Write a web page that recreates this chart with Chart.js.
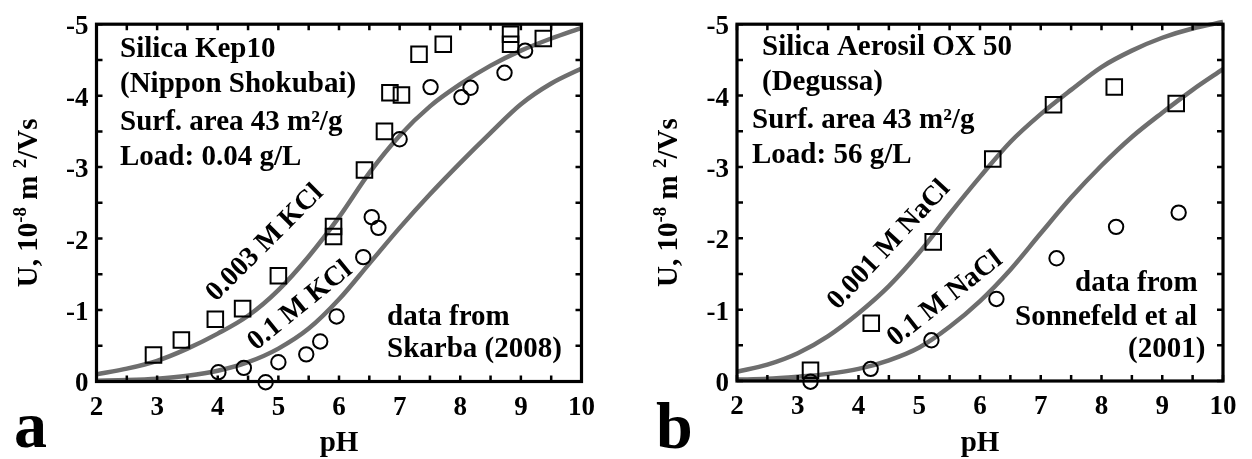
<!DOCTYPE html>
<html><head><meta charset="utf-8">
<script src="https://cdn.jsdelivr.net/npm/chart.js@4.4.1/dist/chart.umd.min.js"></script>
<style>
html,body{margin:0;padding:0;background:#fff;}
body{width:1252px;height:459px;position:relative;overflow:hidden;}
.wrap{position:absolute;top:0;width:626px;height:459px;}
canvas{display:block;}
</style></head><body>
<div class="wrap" style="left:0"><canvas id="ca" width="626" height="459" style="width:626px;height:459px"></canvas></div>
<div class="wrap" style="left:626px"><canvas id="cb" width="626" height="459" style="width:626px;height:459px"></canvas></div>
<script>
// ---------- data ----------
const xTickValues = [2, 3, 4, 5, 6, 7, 8, 9, 10];
const yTickValues = [-5, -4, -3, -2, -1, 0];

const curvePH = [2, 2.5, 3, 3.5, 4, 4.5, 5, 5.5, 6, 6.5, 7, 7.5, 8, 8.5, 9, 9.5, 10];

// panel a: Silica Kep10, KCl
const kcl003Curve = [-0.10, -0.18, -0.29, -0.46, -0.67, -0.92, -1.28, -1.75, -2.30, -2.92, -3.44, -3.85, -4.16, -4.42, -4.63, -4.80, -4.95];
const kcl1Curve   = [-0.01, -0.02, -0.04, -0.08, -0.15, -0.27, -0.46, -0.74, -1.15, -1.65, -2.15, -2.62, -3.06, -3.48, -3.88, -4.17, -4.38];
const kcl003PH = [2.94, 3.40, 3.96, 4.41, 5.00, 5.91, 5.91, 6.42, 6.75, 6.84, 7.03, 7.32, 7.72, 8.83, 8.83, 9.37];
const kcl003U  = [-0.37, -0.58, -0.87, -1.02, -1.48, -2.17, -2.03, -2.96, -3.50, -4.04, -4.01, -4.58, -4.72, -4.86, -4.72, -4.80];
const kcl1PH = [4.01, 4.43, 4.79, 5.00, 5.46, 5.69, 5.96, 6.40, 6.54, 6.65, 7.00, 7.51, 8.02, 8.17, 8.73, 9.07];
const kcl1U  = [-0.13, -0.19, 0.01, -0.27, -0.38, -0.56, -0.91, -1.74, -2.30, -2.15, -3.39, -4.12, -3.98, -4.11, -4.32, -4.63];

// panel b: Silica Aerosil OX 50, NaCl
const nacl001Curve = [-0.13, -0.23, -0.39, -0.63, -0.95, -1.33, -1.80, -2.34, -2.86, -3.35, -3.74, -4.08, -4.40, -4.63, -4.81, -4.94, -5.03];
const nacl1Curve   = [-0.02, -0.03, -0.06, -0.10, -0.17, -0.29, -0.47, -0.76, -1.12, -1.56, -2.07, -2.57, -3.02, -3.42, -3.76, -4.08, -4.37];
const nacl001PH = [3.21, 4.21, 5.23, 6.21, 7.21, 8.21, 9.23];
const nacl001U  = [-0.15, -0.81, -1.95, -3.11, -3.87, -4.12, -3.89];
const nacl1PH = [3.21, 4.20, 5.20, 6.27, 7.26, 8.24, 9.27];
const nacl1U  = [0.01, -0.17, -0.57, -1.15, -1.72, -2.16, -2.36];

// ---------- styles ----------
const FONT = '"Liberation Serif", "Times New Roman", serif';
const GRAY = '#6e6e6e';
const W = 626, H = 459;

function pts(xs, ys) { return xs.map((x, i) => ({ x: x, y: ys[i] })); }

function curveDs(ys) {
  return { data: pts(curvePH, ys), showLine: true, borderColor: GRAY, borderWidth: 4.5,
           pointRadius: 0, cubicInterpolationMode: 'monotone', fill: false, clip: false, order: 1 };
}
function markDs(xs, ys, style) {
  return { data: pts(xs, ys), showLine: false, pointStyle: style, pointRadius: style === 'rect' ? 11 : 7.2,
           borderColor: '#000', borderWidth: 2, backgroundColor: 'rgba(0,0,0,0)', clip: false, order: 0 };
}

function drawYTitle(ctx, xBase, yCenter) {
  const main = 'bold 29px ' + FONT, sup = 'bold 19px ' + FONT;
  const segs = [['U, 10', false], ['-8', true], [' m ', false], ['2', true], ['/Vs', false]];
  ctx.save();
  let total = 0;
  segs.forEach(s => { ctx.font = s[1] ? sup : main; total += ctx.measureText(s[0]).width; });
  ctx.translate(xBase, yCenter);
  ctx.rotate(-Math.PI / 2);
  ctx.fillStyle = '#000';
  ctx.textBaseline = 'alphabetic';
  ctx.textAlign = 'left';
  let x = -total / 2;
  segs.forEach(s => {
    ctx.font = s[1] ? sup : main;
    ctx.fillText(s[0], x, s[1] ? -11 : 0);
    x += ctx.measureText(s[0]).width;
  });
  ctx.restore();
}

function makeChart(id, cfg) {
  const area = cfg.area, off = cfg.offset;
  const deco = {
    id: 'deco',
    afterDraw(chart) {
      const ctx = chart.ctx, ca = chart.chartArea;
      const xs = chart.scales.x, ys = chart.scales.y;
      ctx.save();
      // inward ticks every 0.5
      ctx.strokeStyle = '#000';
      ctx.lineWidth = 2.5;
      ctx.beginPath();
      for (let v = xs.min; v <= xs.max + 1e-9; v += 0.5) {
        const p = xs.getPixelForValue(v);
        ctx.moveTo(p, ca.bottom); ctx.lineTo(p, ca.bottom - 6);
        ctx.moveTo(p, ca.top); ctx.lineTo(p, ca.top + 6);
      }
      for (let v = ys.min; v <= ys.max + 1e-9; v += 0.5) {
        const p = ys.getPixelForValue(v);
        ctx.moveTo(ca.left, p); ctx.lineTo(ca.left + 6, p);
        ctx.moveTo(ca.right, p); ctx.lineTo(ca.right - 6, p);
      }
      ctx.stroke();
      // frame
      ctx.lineWidth = 3.2;
      ctx.strokeRect(ca.left, ca.top, ca.right - ca.left, ca.bottom - ca.top);
      // texts
      ctx.fillStyle = '#000';
      cfg.texts.forEach(t => {
        ctx.save();
        ctx.font = 'bold ' + (t.size || 29) + 'px ' + FONT;
        if (t.rot) {
          ctx.translate(t.x - off, t.y);
          ctx.rotate(t.rot * Math.PI / 180);
          ctx.textAlign = 'center';
          ctx.textBaseline = 'middle';
          ctx.fillText(t.t, 0, 0);
        } else {
          ctx.textAlign = 'left';
          ctx.textBaseline = 'alphabetic';
          ctx.fillText(t.t, t.x - off, t.y);
        }
        ctx.restore();
      });
      // axis titles
      ctx.font = 'bold 29px ' + FONT;
      ctx.textAlign = 'center';
      ctx.textBaseline = 'alphabetic';
      ctx.fillText('pH', (ca.left + ca.right) / 2, 451);
      drawYTitle(ctx, cfg.yTitleX - off, (ca.top + ca.bottom) / 2);
      // panel letter
      ctx.font = 'bold 66px ' + FONT;
      ctx.textAlign = 'left';
      ctx.fillText(cfg.letter[0], cfg.letter[1] - off, cfg.letter[2]);
      ctx.restore();
    }
  };
  const tickFont = { family: FONT, size: 27, weight: 'bold' };
  return new Chart(document.getElementById(id), {
    type: 'scatter',
    data: { datasets: cfg.datasets },
    options: {
      responsive: false, animation: false, events: [],
      layout: { padding: { left: 0, top: area.top, right: W - area.right, bottom: 0 } },
      plugins: { legend: { display: false }, tooltip: { enabled: false } },
      scales: {
        x: {
          type: 'linear', min: 2, max: 10,
          afterBuildTicks: s => { s.ticks = xTickValues.map(v => ({ value: v })); },
          afterFit: s => { s.height = H - area.bottom; },
          ticks: { font: tickFont, color: '#000', padding: 10, maxRotation: 0, autoSkip: false,
                   callback: v => String(v) },
          grid: { display: false, drawTicks: false },
          border: { display: false }
        },
        y: {
          type: 'linear', min: -5, max: 0, reverse: true,
          afterBuildTicks: s => { s.ticks = yTickValues.map(v => ({ value: v })); },
          afterFit: s => { s.width = area.left; },
          ticks: { font: tickFont, color: '#000', padding: 8, labelOffset: 3, autoSkip: false,
                   callback: v => String(v) },
          grid: { display: false, drawTicks: false },
          border: { display: false }
        }
      }
    },
    plugins: [deco]
  });
}

makeChart('ca', {
  offset: 0,
  area: { left: 96.5, top: 16, right: 581.5, bottom: 381.5 },
  yTitleX: 37,
  letter: ['a', 14, 447],
  datasets: [
    markDs(kcl003PH, kcl003U, 'rect'),
    markDs(kcl1PH, kcl1U, 'circle'),
    curveDs(kcl003Curve),
    curveDs(kcl1Curve)
  ],
  texts: [
    { t: 'Silica Kep10', x: 120, y: 57 },
    { t: '(Nippon Shokubai)', x: 120, y: 92 },
    { t: 'Surf. area 43 m\u00B2/g', x: 120, y: 130 },
    { t: 'Load: 0.04 g/L', x: 120, y: 165 },
    { t: 'data from', x: 387, y: 325 },
    { t: 'Skarba (2008)', x: 387, y: 357 },
    { t: '0.003 M KCl', x: 265, y: 243, rot: -45, size: 28 },
    { t: '0.1 M KCl', x: 300, y: 306, rot: -39, size: 28 }
  ]
});

makeChart('cb', {
  offset: 626,
  area: { left: 111, top: 15, right: 597, bottom: 381 },
  yTitleX: 677,
  letter: ['b', 656, 448],
  datasets: [
    markDs(nacl001PH, nacl001U, 'rect'),
    markDs(nacl1PH, nacl1U, 'circle'),
    curveDs(nacl001Curve),
    curveDs(nacl1Curve)
  ],
  texts: [
    { t: 'Silica Aerosil OX 50', x: 762, y: 55 },
    { t: '(Degussa)', x: 762, y: 90 },
    { t: 'Surf. area 43 m\u00B2/g', x: 752, y: 128 },
    { t: 'Load: 56 g/L', x: 752, y: 163 },
    { t: 'data from', x: 1075, y: 291 },
    { t: 'Sonnefeld et al', x: 1015, y: 325 },
    { t: '(2001)', x: 1128, y: 357 },
    { t: '0.001 M NaCl', x: 889, y: 245, rot: -47, size: 28 },
    { t: '0.1 M NaCl', x: 945, y: 299, rot: -38, size: 28 }
  ]
});
</script>
</body></html>
